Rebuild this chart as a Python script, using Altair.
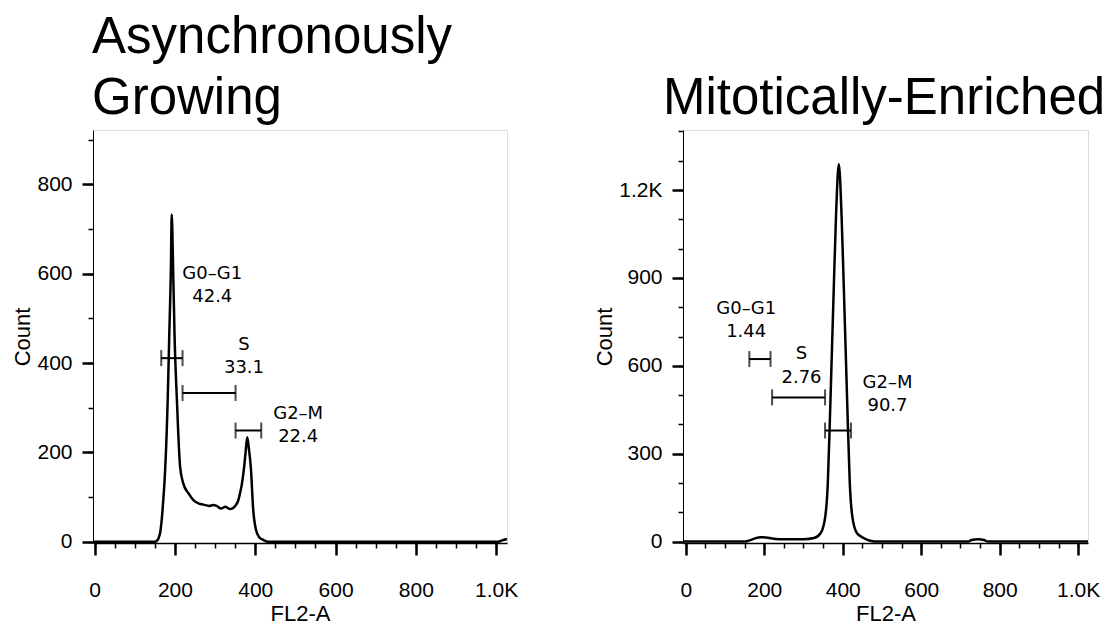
import altair as alt
import pandas as pd

# ---------------- data ----------------
# Left panel: Asynchronously Growing (FL2-A histogram)
left_x = [-4, 150, 155, 163, 171, 176, 182, 186, 190, 192, 195.5, 199, 205, 213, 221, 234, 246,
          260, 271, 285, 295, 304, 315, 325, 338, 350, 358, 362, 366, 372, 376, 380, 384, 389,
          395, 402, 410, 420, 430, 1005, 1015, 1027]
left_count = [0, 0, 2, 19, 93, 167, 316, 465, 614, 733, 614, 465, 316, 167, 130, 108, 93,
              85, 83, 80, 82, 80, 74, 78, 73, 80, 93, 108, 125, 164, 200, 234, 210, 167,
              71, 26, 10, 4, 0, 0, 3, 6]

# Right panel: Mitotically-Enriched
right_x = [-7, 150, 160, 175, 190, 205, 220, 240, 300, 327, 344, 355.5, 362, 367.5, 372.5, 377.5,
           382.8, 390, 397.2, 402.5, 407.5, 412.5, 418, 424.5, 436, 453, 470, 490, 720, 728, 745,
           760, 770, 1025]
right_count = [0, 0, 3, 10, 15, 14, 10, 8, 8, 12, 29, 85, 199, 426, 653, 880,
               1107, 1289, 1107, 880, 653, 426, 199, 85, 29, 12, 3, 0, 0, 5, 8,
               5, 0, 0]

gate_names = ["G0–G1", "S", "G2–M"]

left_pcts = ["42.4", "33.1", "22.4"]
left_gate_lo = [166, 219, 351]
left_gate_hi = [219, 351, 415]
left_gate_y = [411, 333, 249]
left_label_x = [293, 372, 507]
left_name_y = [599, 441, 287]
left_pct_y = [548, 389, 234]

right_pcts = ["1.44", "2.76", "90.7"]
right_gate_lo = [162, 220, 355]
right_gate_hi = [216, 355, 421]
right_gate_y = [623, 492, 379]
right_label_x = [154, 295, 514]
right_name_y = [795, 639, 540]
right_pct_y = [716, 558, 462]

# axis tick values (major with labels, minor without)
x_major = [0, 200, 400, 600, 800, 1000]
x_minor = list(range(0, 1001, 50))
left_y_major = [0, 200, 400, 600, 800]
left_y_minor = list(range(0, 901, 100))
right_y_major = [0, 300, 600, 900, 1200]
right_y_minor = list(range(0, 1401, 100))

LABEL_FONT = "Liberation Sans"
GATE_FONT = "DejaVu Sans"
K_EXPR = "datum.value >= 1000 ? format(datum.value/1000, '.1f') + 'K' : format(datum.value, 'd')"


def major_axis(values, title, orient):
    is_x = orient == "bottom"
    return alt.Axis(
        values=values, title=title, orient=orient, grid=False,
        domain=True, domainColor="black", domainWidth=1.5 if is_x else 1,
        tickColor="black", tickSize=12 if is_x else 11, tickWidth=2.5,
        labelExpr=K_EXPR,
        labelFont=LABEL_FONT, labelFontSize=21, labelColor="black",
        labelPadding=24 if is_x else 10, labelOverlap=False, labelFlush=False,
        titleFont=LABEL_FONT, titleFontSize=22, titleFontWeight="normal",
        titleColor="black", titlePadding=3 if is_x else 2,
    )


def minor_axis(values, orient):
    return alt.Axis(
        values=values, title=None, orient=orient, grid=False, domain=False,
        labels=False, tickColor="black", tickSize=5, tickWidth=1.5,
    )


def make_panel(xs, counts, pcts, lo, hi, gy, lx, ny, py,
               xdom, ydom, y_major, y_minor, width, height, title):
    hist = pd.DataFrame({"FL2-A": xs, "Count": counts})
    gates = pd.DataFrame({"lo": lo, "hi": hi, "y": gy})
    caps = pd.DataFrame({"x": lo + hi, "y": gy + gy})
    names = pd.DataFrame({"x": lx, "y": ny, "t": gate_names})
    pct = pd.DataFrame({"x": lx, "y": py, "t": pcts})

    xs_ = alt.Scale(domain=xdom, nice=False, zero=False)
    ys_ = alt.Scale(domain=ydom, nice=False, zero=False)

    line = alt.Chart(hist).mark_line(color="black", strokeWidth=2.5, interpolate="monotone").encode(
        x=alt.X("FL2-A:Q", scale=xs_, axis=major_axis(x_major, "FL2-A", "bottom")),
        y=alt.Y("Count:Q", scale=ys_, axis=major_axis(y_major, "Count", "left")),
    )
    gate_lines = alt.Chart(gates).mark_rule(color="black", strokeWidth=2).encode(
        x=alt.X("lo:Q", scale=xs_, axis=minor_axis(x_minor, "bottom")),
        x2="hi:Q",
        y=alt.Y("y:Q", scale=ys_, axis=minor_axis(y_minor, "left")),
    )
    cap_marks = alt.Chart(caps).mark_tick(color="black", orient="vertical", size=16, thickness=2).encode(
        x=alt.X("x:Q", scale=xs_, axis=None), y=alt.Y("y:Q", scale=ys_, axis=None)
    )
    name_text = alt.Chart(names).mark_text(font=GATE_FONT, fontSize=18, color="black",
                                           align="center", baseline="middle").encode(
        x=alt.X("x:Q", scale=xs_, axis=None), y=alt.Y("y:Q", scale=ys_, axis=None), text="t:N"
    )
    pct_text = alt.Chart(pct).mark_text(font=GATE_FONT, fontSize=18, color="black",
                                        align="center", baseline="middle").encode(
        x=alt.X("x:Q", scale=xs_, axis=None), y=alt.Y("y:Q", scale=ys_, axis=None), text="t:N"
    )
    return alt.layer(line, gate_lines, cap_marks, name_text, pct_text).resolve_axis(
        x="independent", y="independent"
    ).properties(width=width, height=height, title=title)


left_title = alt.TitleParams(
    text="Asynchronously", subtitle="Growing",
    font=LABEL_FONT, fontSize=51, fontWeight="normal", color="black",
    subtitleFont=LABEL_FONT, subtitleFontSize=51, subtitleFontWeight="normal",
    subtitleColor="black", subtitlePadding=10,
    anchor="start", frame="group", offset=5, dx=-1,
)
right_title = alt.TitleParams(
    text="Mitotically-Enriched", font=LABEL_FONT, fontSize=51, fontWeight="normal",
    color="black", anchor="start", frame="group", offset=5, dx=-20,
)

left = make_panel(left_x, left_count, left_pcts, left_gate_lo, left_gate_hi, left_gate_y,
                  left_label_x, left_name_y, left_pct_y,
                  [-4, 1027], [-3, 922], left_y_major, left_y_minor, 414, 413, left_title)
right = make_panel(right_x, right_count, right_pcts, right_gate_lo, right_gate_hi, right_gate_y,
                   right_label_x, right_name_y, right_pct_y,
                   [-7, 1025], [-5, 1405], right_y_major, right_y_minor, 405, 413, right_title)

chart = alt.hconcat(left, right, spacing=176, bounds="flush").properties(
    padding={"left": 3, "top": 3, "right": 0, "bottom": 0}
).configure_view(
    stroke="#444", strokeWidth=1
).configure(background="white")

chart.save("out.html", embed_options={"renderer": "svg", "actions": False})
